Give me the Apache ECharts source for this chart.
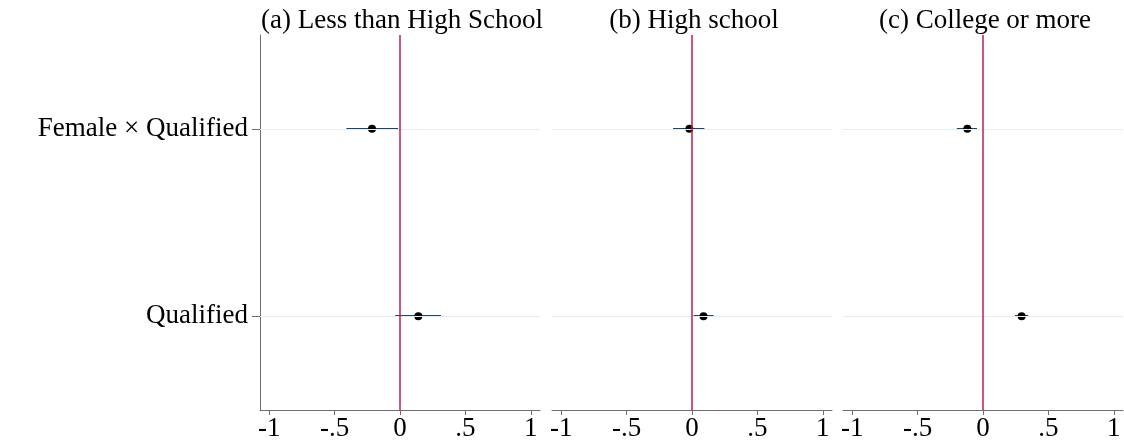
<!DOCTYPE html>
<html>
<head>
<meta charset="utf-8">
<script src="https://cdn.jsdelivr.net/npm/echarts@6/dist/echarts.min.js"></script>
<style>html,body{margin:0;padding:0;background:#fff}#c{width:1124px;height:443px}</style>
</head>
<body>
<div id="c"></div>
<script>
const categories = ['Female \u00d7 Qualified', 'Qualified'];
const panelTitles = ['(a) Less than High School', '(b) High school', '(c) College or more'];
const tickValues = [-1, -0.5, 0, 0.5, 1];

const coefA = [-0.214, 0.14];
const loA = [-0.41, -0.036];
const hiA = [-0.015, 0.313];

const coefB = [-0.02, 0.088];
const loB = [-0.145, 0.012];
const hiB = [0.095, 0.165];

const coefC = [-0.12, 0.295];
const loC = [-0.20, 0.244];
const hiC = [-0.046, 0.346];

const panels = [
  {coef: coefA, lo: loA, hi: hiA},
  {coef: coefB, lo: loB, hi: hiB},
  {coef: coefC, lo: loC, hi: hiC}
];

const FONT = 'Liberation Serif';
const FS = 27;
const gridLefts = [260, 552, 843];
const gridW = 280;
const TOP = 35, BOTTOM = 33;

function fmt(v) {
  if (Math.abs(v) < 1e-9) return '0';
  const s = String(Math.abs(v)).replace(/^0/, '');
  return (v < 0 ? '-' : '') + s;
}

const option = {
  animation: false,
  backgroundColor: '#fff',
  title: panelTitles.map((t, i) => ({
    text: t,
    left: gridLefts[i] + gridW / 2 - 3,
    textAlign: 'center',
    top: 2,
    textStyle: {fontFamily: FONT, fontSize: FS, fontWeight: 'normal', color: '#000'}
  })),
  grid: gridLefts.map(l => ({left: l, width: gridW, top: TOP, bottom: BOTTOM, containLabel: false})),
  xAxis: panels.map((p, i) => ({
    type: 'value', gridIndex: i, min: -1.07, max: 1.07,
    splitLine: {show: false},
    axisLine: {show: true, onZero: false, lineStyle: {color: '#6e6e6e', width: 1}},
    axisTick: {show: true, length: 5, customValues: tickValues, lineStyle: {color: '#6e6e6e'}},
    axisLabel: {show: true, customValues: tickValues, formatter: fmt, margin: 5,
      fontFamily: FONT, fontSize: FS, color: '#000'}
  })),
  yAxis: panels.map((p, i) => ({
    type: 'category', gridIndex: i, data: categories, inverse: true, boundaryGap: true,
    axisLine: {show: i === 0, onZero: false, lineStyle: {color: '#6e6e6e', width: 1}},
    axisTick: {show: i === 0, alignWithLabel: true, length: 8, lineStyle: {color: '#6e6e6e'}},
    axisLabel: {show: i === 0, margin: 12, fontFamily: FONT, fontSize: FS, color: '#000'},
    splitLine: {show: false}
  })),
  series: []
};

panels.forEach((p, i) => {
  option.series.push({
    type: 'scatter', xAxisIndex: i, yAxisIndex: i, data: [], silent: true, z: 1,
    markLine: {
      silent: true, symbol: 'none', label: {show: false}, animation: false,
      data: [
        {yAxis: categories[0], lineStyle: {color: '#e4edf1', width: 1, type: 'solid'}},
        {yAxis: categories[1], lineStyle: {color: '#e4edf1', width: 1, type: 'solid'}},
        {xAxis: 0, lineStyle: {color: '#c01e50', width: 1.5, type: 'solid'}}
      ]
    }
  });
  option.series.push({
    type: 'custom', xAxisIndex: i, yAxisIndex: i, z: 3,
    data: categories.map((c, k) => [p.lo[k], p.hi[k], k]),
    renderItem: function (params, api) {
      const a = api.coord([api.value(0), api.value(2)]);
      const b = api.coord([api.value(1), api.value(2)]);
      const y = Math.round(a[1]);
      return {type: 'line', shape: {x1: a[0], y1: y, x2: b[0], y2: y},
        style: {stroke: '#1a476f', lineWidth: 2, opacity: 1}};
    },
    encode: {x: [0, 1], y: 2}
  });
  option.series.push({
    type: 'scatter', xAxisIndex: i, yAxisIndex: i, z: 4,
    symbol: 'circle', symbolSize: 8,
    itemStyle: {color: '#000', opacity: 1},
    data: categories.map((c, k) => [p.coef[k], k])
  });
});

const chart = echarts.init(document.getElementById('c'), null, {renderer: 'canvas'});
chart.setOption(option);
</script>
</body>
</html>
